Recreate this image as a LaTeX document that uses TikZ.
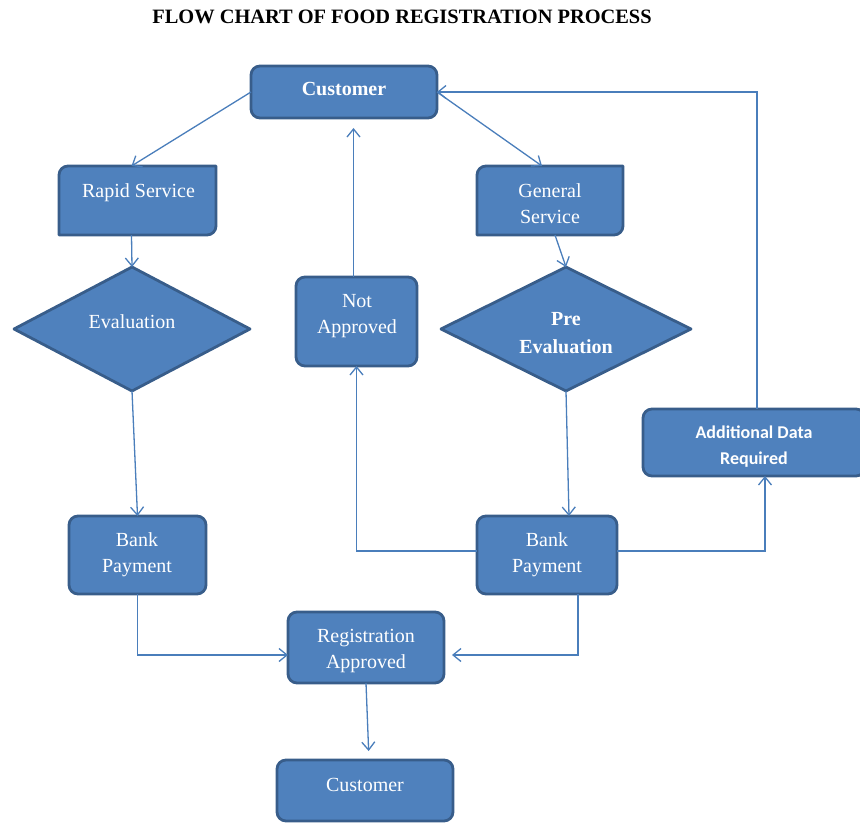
\documentclass[tikz,border=0pt]{standalone}
\usepackage{fontspec}
\setmainfont{Liberation Serif}
\newfontfamily\calib{Carlito}
\usetikzlibrary{arrows.meta}
\definecolor{boxfill}{HTML}{4F81BD}
\definecolor{boxedge}{HTML}{385D8A}
\definecolor{conn}{HTML}{4A7EBB}
\begin{document}
\begin{tikzpicture}[x=1pt,y=-1pt,
 shapebox/.style={draw=boxedge, line width=2.8pt, fill=boxfill, rounded corners=9pt, inner sep=0pt, outer sep=0pt},
 diagbox/.style={draw=boxedge, line width=2.8pt, fill=boxfill, line join=round},
 frame/.style={inner sep=0pt, outer sep=0pt},
 lbl/.style={text=white, font=\fontsize{20}{26}\selectfont, align=center, inner sep=0pt},
 boldlbl/.style={lbl, font=\bfseries\fontsize{20}{28}\selectfont},
 sanslbl/.style={text=white, font=\calib\bfseries\fontsize{18}{26}\selectfont, align=center, inner sep=0pt},
 arr/.style={draw=conn, line width=1.3pt, -{Straight Barb[length=8pt,width=13pt]}},
]
\useasboundingbox (0,0) rectangle (860,824);

\node[font=\bfseries\fontsize{20.4}{24}\selectfont, inner sep=0pt] (title) at (402,17) {FLOW CHART OF FOOD REGISTRATION PROCESS};

% boxes
\node[shapebox, minimum width=186pt, minimum height=52pt] (c1) at (344,92) {};
\node[frame, minimum width=157pt, minimum height=69pt] (rs) at (137.5,200.5) {};
\draw[diagbox] (rs.south west) -- (rs.west) [rounded corners=9pt] -- (rs.north west) -- (rs.north) [sharp corners] -- (rs.north east) -- (rs.east) [rounded corners=9pt] -- (rs.south east) -- (rs.south) [sharp corners] -- cycle;
\node[frame, minimum width=146pt, minimum height=69pt] (gs) at (550,200.5) {};
\draw[diagbox] (gs.south west) -- (gs.west) [rounded corners=9pt] -- (gs.north west) -- (gs.north) [sharp corners] -- (gs.north east) -- (gs.east) [rounded corners=9pt] -- (gs.south east) -- (gs.south) [sharp corners] -- cycle;
\node[frame, minimum width=236pt, minimum height=124pt] (ev) at (132,329) {};
\draw[diagbox] (ev.north) -- (ev.east) -- (ev.south) -- (ev.west) -- cycle;
\node[frame, minimum width=250pt, minimum height=124pt] (pe) at (566,329) {};
\draw[diagbox] (pe.north) -- (pe.east) -- (pe.south) -- (pe.west) -- cycle;
\node[shapebox, minimum width=121pt, minimum height=89pt] (na) at (356.5,321.5) {};
\node[shapebox, minimum width=222pt, minimum height=67pt] (ad) at (754,442.5) {};
\node[shapebox, minimum width=137pt, minimum height=78pt] (bp1) at (137.5,555) {};
\node[shapebox, minimum width=140pt, minimum height=78pt] (bp2) at (547,555) {};
\node[shapebox, minimum width=156pt, minimum height=71pt] (ra) at (366,647.5) {};
\node[shapebox, minimum width=176pt, minimum height=61pt] (c2) at (365,790.5) {};

% texts
\node[boldlbl] (t-c1) at (344,89.5) {Customer};
\node[lbl] (t-rs) at (138.5,193) {Rapid Service};
\node[lbl] (t-gs) at (550,204) {General\\Service};
\node[lbl] (t-ev) at (132,322) {Evaluation};
\node[boldlbl] (t-pe) at (566,333.5) {Pre\\Evaluation};
\node[lbl] (t-na) at (357,316) {Not\\Approved};
\node[sanslbl] (t-ad) at (754,446.5) {Additional Data\\Required};
\node[lbl] (t-bp1) at (137,555) {Bank\\Payment};
\node[lbl] (t-bp2) at (547,555) {Bank\\Payment};
\node[lbl] (t-ra) at (366,651) {Registration\\Approved};
\node[lbl] (t-c2) at (365,784.5) {Customer};

% connectors
\draw[arr] (c1.west) -- ([xshift=-6pt]rs.north);
\draw[arr] (c1.east) -- ([xshift=-8pt]gs.north);
\draw[arr] ([xshift=-6pt]rs.south) -- (ev.north);
\draw[arr] ([xshift=5pt]gs.south) -- (pe.north);
\draw[arr] (ev.south) -- (bp1.north);
\draw[arr] (pe.south) -- ([xshift=22pt]bp2.north);
\draw[arr, shorten >=10pt] ([xshift=-3pt]na.north) -- ([xshift=-3pt]na.north |- c1.south);
\draw[arr] ([yshift=4pt]bp2.west) -| (na.south);
\draw[arr] ([yshift=4pt]bp2.east) -| ([xshift=11pt]ad.south);
\draw[arr] ([xshift=3pt]ad.north) |- (c1.east);
\draw[arr] (bp1.south) |- ([yshift=-7.5pt]ra.west);
\draw[arr, shorten >=8pt] ([xshift=31pt]bp2.south) |- ([yshift=-7.5pt]ra.east);
\draw[arr, shorten >=9pt] (ra.south) -- ([xshift=4pt]c2.north);
\end{tikzpicture}
\end{document}
